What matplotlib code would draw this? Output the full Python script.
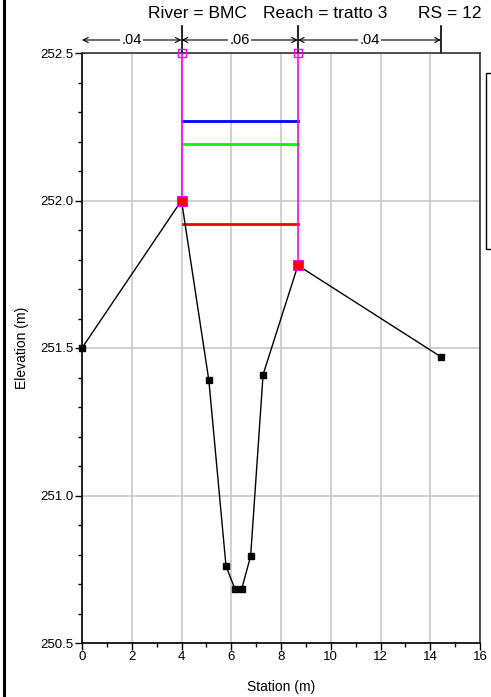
import matplotlib
matplotlib.use("Agg")
import matplotlib.pyplot as plt
from matplotlib.patches import Rectangle
import numpy as np

plt.rcParams['font.family'] = ['Liberation Sans', 'DejaVu Sans']

# Ground profile
station = [0.0, 4.0, 5.1, 5.79, 6.15, 6.42, 6.78, 7.28, 8.68, 14.43]
elevation = [251.50, 252.00, 251.39, 250.76, 250.683, 250.683, 250.795, 251.41, 251.78, 251.47]

# Bank stations
bank_sta = [4.0, 8.68]
bank_elev = [252.00, 251.78]

# Water surfaces (start station, end station, elevation)
ws_names = ["blue", "green", "red"]
ws_colors = ["#0000ff", "#00ff00", "#ff0000"]
ws_start = [4.0, 4.0, 4.07]
ws_end = [8.68, 8.68, 8.68]
ws_elev = [252.27, 252.19, 251.92]

# Manning's n regions
n_bounds = [0.0, 4.0, 8.68, 14.43]
n_labels = [".04", ".06", ".04"]

top_elev = 252.5

W, H = 491, 697
fig = plt.figure(figsize=(W / 100, H / 100), dpi=100)
ax = fig.add_axes([82 / W, 1 - 643 / H, (480 - 82) / W, (643 - 53) / H])

ax.set_xlim(0, 16)
ax.set_ylim(250.5, 252.5)
ax.set_xticks(np.arange(0, 17, 2))
ax.set_xticks(np.arange(0, 17, 1), minor=True)
ax.set_yticks([250.5, 251.0, 251.5, 252.0, 252.5])
ax.set_yticks(np.arange(250.5, 252.51, 0.1), minor=True)
ax.set_yticklabels(["250.5", "251.0", "251.5", "252.0", "252.5"])
ax.grid(True, which='major', color='#c8c8c8', lw=1.2)
ax.set_axisbelow(True)
ax.tick_params(which='major', direction='out', length=5, width=1, labelsize=9.5, pad=1)
ax.tick_params(which='minor', direction='out', length=3, width=1)
ax.tick_params(axis='x', which='both', bottom=True, top=False)
ax.tick_params(axis='y', which='both', left=True, right=False)
for s in ax.spines.values():
    s.set_linewidth(1.2)
    s.set_color('#333333')
ax.spines['left'].set_color('black')
ax.spines['bottom'].set_color('black')

ax.set_xlabel("Station (m)", fontsize=10, labelpad=12)
ax.set_ylabel("Elevation (m)", fontsize=10, labelpad=8)

# water surfaces
for x0, x1, e, c in zip(ws_start, ws_end, ws_elev, ws_colors):
    ax.plot([x0, x1], [e, e], color=c, lw=2, zorder=3)

# bank station vertical lines
for xs, es in zip(bank_sta, bank_elev):
    ax.plot([xs, xs], [es, top_elev], color='#ff00ff', lw=1.2, zorder=3)
    ax.plot([xs], [top_elev], marker='s', ms=6, mfc='none', mec='#ff00ff', mew=1, clip_on=False, zorder=5)

# ground
ax.plot(station, elevation, color='black', lw=1, marker='s', ms=4.5, zorder=4, clip_on=False)
ax.plot(bank_sta, bank_elev, ls='none', marker='s', ms=7, mfc='#ff0000', mec='#ff00ff', mew=0.8, zorder=6)

# Manning's n annotations above axes
trans = ax.get_xaxis_transform()
yh = 1 + 13 / 590
ytop = 1 + 27 / 590
for xb in n_bounds[1:]:
    ax.plot([xb, xb], [1.0, ytop], transform=trans, color='black', lw=1.2, clip_on=False)
for i, lab in enumerate(n_labels):
    x0, x1 = n_bounds[i], n_bounds[i + 1]
    ax.annotate("", xy=(x0, yh), xytext=(x1, yh), xycoords=trans, textcoords=trans,
                arrowprops=dict(arrowstyle='<->', color='black', lw=0.8, shrinkA=0, shrinkB=0,
                                mutation_scale=9))
    ax.text((x0 + x1) / 2, yh, lab, transform=trans, ha='center', va='center', fontsize=10.5,
            bbox=dict(boxstyle='square,pad=0.1', fc='white', ec='none'))

# Title texts
fig.text(148 / W, 1 - 13.5 / H, "River = BMC", ha='left', va='center', fontsize=12.5)
fig.text(263 / W, 1 - 13.5 / H, "Reach = tratto 3", ha='left', va='center', fontsize=12.5)
fig.text(418 / W, 1 - 13.5 / H, "RS = 12", ha='left', va='center', fontsize=12.5)

# Left border line and partial legend box
fig.add_artist(plt.Line2D([3.5 / W, 3.5 / W], [0, 1], color='black', lw=2.2))
fig.add_artist(Rectangle((486 / W, 1 - 249 / H), 20 / W, (249 - 73) / H, fill=False,
                         ec='black', lw=1, transform=fig.transFigure))

fig.savefig("out.png", dpi=100)
